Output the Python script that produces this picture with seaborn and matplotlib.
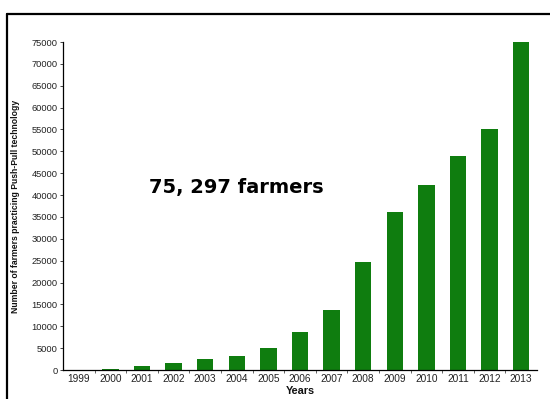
import numpy as np
import pandas as pd
import matplotlib
matplotlib.use("Agg")
import matplotlib.pyplot as plt
import seaborn as sns
from matplotlib.lines import Line2D

# data
years = ["1999", "2000", "2001", "2002", "2003", "2004", "2005", "2006",
         "2007", "2008", "2009", "2010", "2011", "2012", "2013"]
farmers = [100, 300, 1000, 1500, 2500, 3200, 5100, 8700,
           13700, 24700, 36100, 42200, 49000, 55200, 75297]
yticks = list(range(0, 75001, 5000))

df = pd.DataFrame({"year": years, "farmers": farmers})

sns.set_style("white")
plt.rcParams["font.family"] = ["Liberation Sans", "DejaVu Sans"]

fig = plt.figure(figsize=(5.5, 3.99), dpi=100)
ax = fig.add_axes([63 / 550, 1 - 370 / 399, (537 - 63) / 550, (370 - 42) / 399])

sns.barplot(data=df, x="year", y="farmers", color="#0f7d0f", saturation=1,
            width=0.52, linewidth=0, ax=ax)

ax.set_ylim(0, 75000)
ax.set_xlim(-0.5, len(years) - 0.5)
ax.set_yticks(yticks)
ax.set_yticklabels([str(v) for v in yticks], fontsize=6.7, color="#222222")
ax.tick_params(axis="y", length=2, width=0.6, pad=2, left=True)

ax.set_xticks(range(len(years)))
ax.set_xticklabels(years, fontsize=7.3, color="#222222")
ax.tick_params(axis="x", length=0, pad=3)
ax.set_xticks(np.arange(0.5, len(years) - 0.5, 1), minor=True)
ax.tick_params(axis="x", which="minor", length=2, width=0.5, bottom=True)

for s in ["top", "right"]:
    ax.spines[s].set_visible(False)
for s in ["left", "bottom"]:
    ax.spines[s].set_color("black")
    ax.spines[s].set_linewidth(0.9)

ax.set_xlabel("Years", fontsize=7.8, fontweight="bold", labelpad=1,
              color="#111111")
ax.set_ylabel("Number of farmers practicing Push-Pull technology",
              fontsize=6.2, fontweight="bold", labelpad=8, color="#111111")

fig.text(236 / 550, 1 - 188 / 399, "75, 297 farmers", fontsize=14,
         fontweight="bold", ha="center", va="center", color="black",
         family=["DejaVu Sans"])

# frame around the picture (top and left edges)
fig.add_artist(Line2D([7 / 550, 1], [1 - 14 / 399, 1 - 14 / 399],
                      color="black", lw=1.6, transform=fig.transFigure))
fig.add_artist(Line2D([7 / 550, 7 / 550], [0, 1 - 14 / 399],
                      color="black", lw=1.6, transform=fig.transFigure))

fig.savefig("out.png", dpi=100)
